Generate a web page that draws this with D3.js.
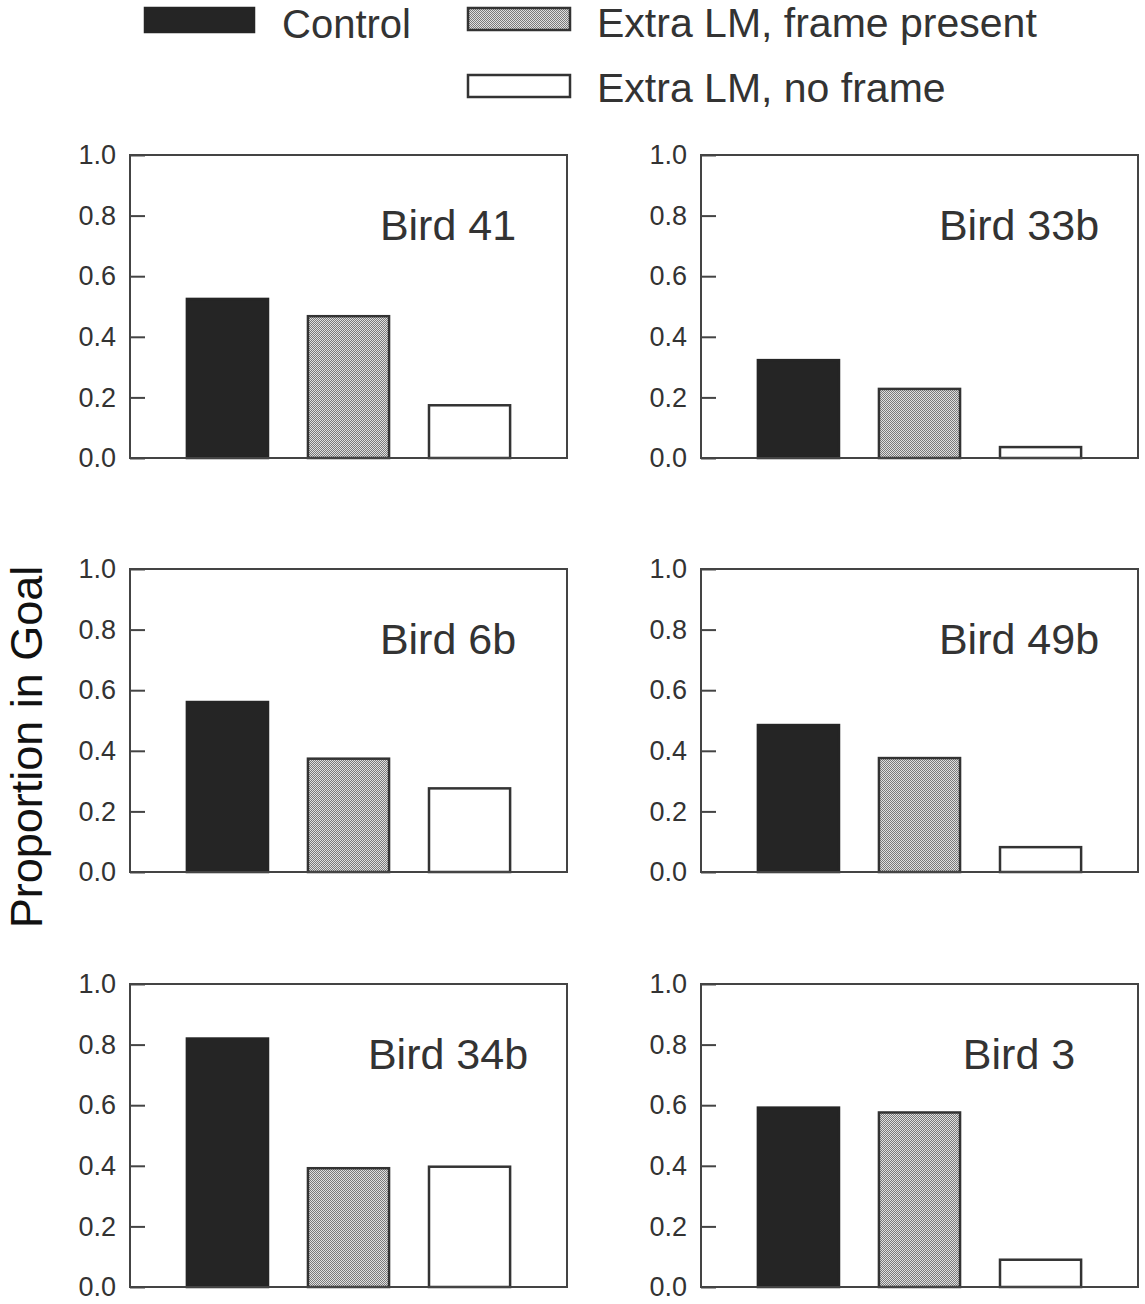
<!DOCTYPE html>
<html>
<head>
<meta charset="utf-8">
<script src="https://cdn.jsdelivr.net/npm/d3@7"></script>
<style>
  body { margin: 0; background: #fff; }
  svg text { font-family: "Liberation Sans", Arial, sans-serif; }
</style>
</head>
<body>
<div id="chart"></div>
<script>
// data
var conditions = ["Control", "Extra LM, frame present", "Extra LM, no frame"];
var birds = ["Bird 41", "Bird 33b", "Bird 6b", "Bird 49b", "Bird 34b", "Bird 3"];
var control = [0.525, 0.323, 0.561, 0.485, 0.82, 0.592];
var framePresent = [0.468, 0.228, 0.374, 0.376, 0.392, 0.576];
var noFrame = [0.174, 0.036, 0.276, 0.082, 0.397, 0.09];
var yTicks = [0.0, 0.2, 0.4, 0.6, 0.8, 1.0];

var svg = d3.select("#chart").append("svg").attr("width", 1145).attr("height", 1304);

var defs = svg.append("defs");
var pat = defs.append("pattern").attr("id", "dots")
    .attr("width", 2).attr("height", 2).attr("patternUnits", "userSpaceOnUse");
pat.append("rect").attr("width", 2).attr("height", 2).attr("fill", "#e0e0e0");
pat.append("rect").attr("width", 1).attr("height", 1).attr("fill", "#7a7a7a");
pat.append("rect").attr("x", 1).attr("y", 1).attr("width", 1).attr("height", 1).attr("fill", "#7a7a7a");

var fills = ["#252525", "url(#dots)", "#fff"];
var strokes = ["#252525", "#333", "#333"];

var panelW = 437, panelH = 303;
var colX = [130, 701], rowY = [155, 569, 984];

var x = d3.scaleBand().domain(conditions).range([0, panelW]).paddingInner(0.33).paddingOuter(0.47);
var y = d3.scaleLinear().domain([0, 1]).range([panelH, 0]);

birds.forEach(function(name, i) {
    var g = svg.append("g")
        .attr("transform", "translate(" + colX[i % 2] + "," + rowY[Math.floor(i / 2)] + ")");

    var vals = [control[i], framePresent[i], noFrame[i]];

    g.selectAll(".bar")
        .data(conditions)
        .enter().append("rect")
        .attr("class", "bar")
        .attr("x", function(d) { return x(d); })
        .attr("width", x.bandwidth())
        .attr("y", function(d, j) { return y(vals[j]); })
        .attr("height", function(d, j) { return panelH - y(vals[j]); })
        .attr("fill", function(d, j) { return fills[j]; })
        .attr("stroke", function(d, j) { return strokes[j]; })
        .attr("stroke-width", 2.5);

    var ax = g.append("g")
        .call(d3.axisLeft(y).tickValues(yTicks).tickFormat(d3.format(".1f"))
            .tickSizeInner(-15).tickSizeOuter(0).tickPadding(14));
    ax.select(".domain").remove();
    ax.selectAll("line").attr("stroke", "#444").attr("stroke-width", 2);
    ax.selectAll("text").attr("font-size", 27).attr("fill", "#333")
        .attr("font-family", "Liberation Sans, Arial, sans-serif");

    g.append("rect")
        .attr("width", panelW).attr("height", panelH)
        .attr("fill", "none").attr("stroke", "#444").attr("stroke-width", 2);

    g.append("text")
        .attr("x", 318).attr("y", 85)
        .attr("text-anchor", "middle")
        .attr("font-size", 43).attr("fill", "#333")
        .text(name);
});

// legend
var legend = [
    {x: 145, y: 8, w: 109, h: 24, tx: 282, ty: 38},
    {x: 468, y: 8, w: 102, h: 22, tx: 597, ty: 37},
    {x: 468, y: 75, w: 102, h: 22, tx: 597, ty: 102}
];
legend.forEach(function(l, j) {
    svg.append("rect").attr("x", l.x).attr("y", l.y).attr("width", l.w).attr("height", l.h)
        .attr("fill", fills[j]).attr("stroke", strokes[j]).attr("stroke-width", 2.5);
    svg.append("text").attr("x", l.tx).attr("y", l.ty)
        .attr("font-size", j === 0 ? 40 : 41).attr("fill", "#333")
        .text(conditions[j]);
});

svg.append("text")
    .attr("transform", "translate(42,747) rotate(-90)")
    .attr("text-anchor", "middle")
    .attr("font-size", 45).attr("fill", "#111")
    .text("Proportion in Goal");
</script>
</body>
</html>
